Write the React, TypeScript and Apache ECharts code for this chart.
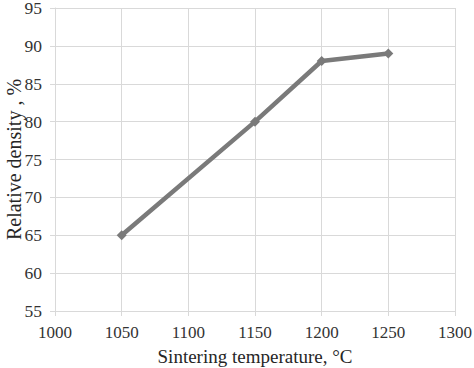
import React, { useEffect, useRef } from "react";
import * as echarts from "echarts";

const temperatures = [1050, 1150, 1200, 1250];
const densities = [65, 80, 88, 89];
const xName = "Sintering temperature, °C";
const yName = "Relative density , %";

export default function App() {
  const ref = useRef<HTMLDivElement>(null);
  useEffect(() => {
    document.body.style.margin = "0";
    const chart = echarts.init(ref.current!, null, { renderer: "svg" });
    const font = "Liberation Serif";
    chart.setOption({
      animation: false,
      backgroundColor: "#ffffff",
      textStyle: { fontFamily: font },
      grid: { left: 55, right: 19, top: 8, bottom: 57, containLabel: false, outerBoundsMode: "none" },
      xAxis: {
        type: "value",
        min: 1000,
        max: 1300,
        interval: 50,
        name: xName,
        nameLocation: "middle",
        nameGap: 36,
        nameMoveOverlap: false,
        nameTextStyle: { fontFamily: font, fontSize: 19, color: "#262626" },
        axisLine: { show: true, lineStyle: { color: "#d9d9d9", width: 1 } },
        axisTick: { show: true, length: 5, lineStyle: { color: "#d9d9d9" } },
        axisLabel: { fontFamily: font, fontSize: 17, color: "#333333", margin: 13, formatter: (v: number) => String(v) },
        splitLine: { show: true, lineStyle: { color: "#d9d9d9", width: 1 } },
      },
      yAxis: {
        type: "value",
        min: 55,
        max: 95,
        interval: 5,
        name: yName,
        nameLocation: "middle",
        nameGap: 31,
        nameRotate: 90,
        nameMoveOverlap: false,
        nameTextStyle: { fontFamily: font, fontSize: 20, color: "#262626" },
        axisLine: { show: true, lineStyle: { color: "#d9d9d9", width: 1 } },
        axisTick: { show: true, length: 5, lineStyle: { color: "#d9d9d9" } },
        axisLabel: { fontFamily: font, fontSize: 17.5, lineHeight: 14, padding: [3, 0, 0, 0], color: "#333333", margin: 13, formatter: (v: number) => String(v) },
        splitLine: { show: true, lineStyle: { color: "#d9d9d9", width: 1 } },
      },
      series: [
        {
          type: "line",
          data: temperatures.map((t, i) => [t, densities[i]]),
          symbol: "diamond",
          symbolSize: 10,
          lineStyle: { color: "#7a7a7a", width: 4.5 },
          itemStyle: { color: "#7a7a7a" },
        },
      ],
    });
    return () => chart.dispose();
  }, []);
  return <div ref={ref} style={{ width: 474, height: 368 }} />;
}
